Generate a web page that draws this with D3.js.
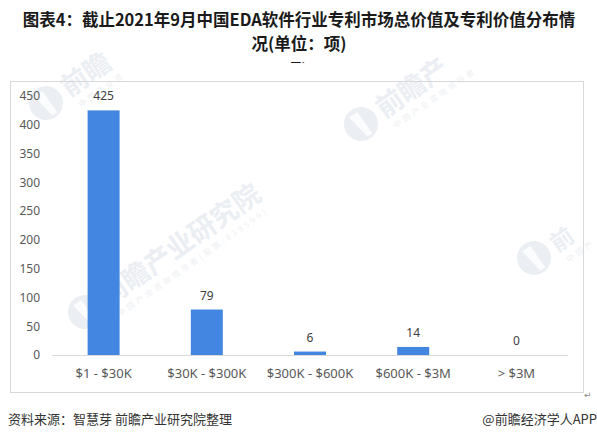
<!DOCTYPE html>
<html>
<head>
<meta charset="utf-8">
<script src="https://cdn.jsdelivr.net/npm/d3@7"></script>
<style>
  html, body { margin: 0; padding: 0; background: #fff; }
  svg { display: block; }
</style>
</head>
<body>
<div id="chart"></div>
<script>
// ---- data ----
const categories = ["$1 - $30K", "$30K - $300K", "$300K - $600K", "$600K - $3M", "> $3M"];
const values = [425, 79, 6, 14, 0];
const yTicks = [0, 50, 100, 150, 200, 250, 300, 350, 400, 450];
const titleLines = ["图表4：截止2021年9月中国EDA软件行业专利市场总价值及专利价值分布情", "况(单位：项)"];
const sourceText = "资料来源：智慧芽 前瞻产业研究院整理";
const brandText = "@前瞻经济学人APP";
const watermarkText = "前瞻产业研究院";
const watermarkSub = "中国产业咨询领导者(股票:839599)";

const W = 597, H = 440;
const svg = d3.select("#chart").append("svg").attr("width", W).attr("height", H);
const cjk = "'Noto Sans CJK SC', 'Noto Sans', sans-serif";
const latin = "'Noto Sans', 'Liberation Sans', sans-serif";

// ---- watermarks (behind, clipped to the chart image area) ----
svg.append("clipPath").attr("id", "wmclip").append("rect")
  .attr("x", 0).attr("y", 52).attr("width", 597).attr("height", 350);
// [x, y, main chars shown, subtitle chars shown, font size]
const wmPos = [[85, 312, 7, 20, 27], [361, 124, 3, 9, 27], [46, 103, 2, 5, 27], [534, 258, 1, 3, 23]];
const wm = svg.append("g").attr("class", "watermarks").attr("clip-path", "url(#wmclip)");
wmPos.forEach(([x, y, n, m, fs]) => {
  const g = wm.append("g").attr("transform", `translate(${x},${y}) rotate(-35)`);
  g.append("circle").attr("r", 17).attr("fill", "#ebeef2");
  g.append("path").attr("d", "M-6,-12 L4,-12 L4,14 L-2,14 Z").attr("fill", "#ffffff").attr("opacity", 0.8);
  g.append("text").attr("x", 22).attr("y", 9)
    .attr("font-family", cjk).attr("font-weight", "bold").attr("font-size", fs)
    .attr("fill", "#ebeef3").text(watermarkText.slice(0, n));
  g.append("text").attr("x", 26).attr("y", 24)
    .attr("font-family", cjk).attr("font-size", 8).attr("letter-spacing", 3)
    .attr("fill", "#edf0f3").text(watermarkSub.slice(0, m));
});

// ---- title ----
svg.append("g").selectAll("text").data(titleLines).join("text")
  .attr("x", 299).attr("y", (d, i) => 26 + i * 24)
  .attr("text-anchor", "middle")
  .attr("font-family", cjk).attr("font-weight", "bold").attr("font-size", 16.5)
  .attr("fill", "#1a1a1a").text(d => d);

// clipped remnant line under title
svg.append("clipPath").attr("id", "remn").append("rect")
  .attr("x", 270).attr("y", 58).attr("width", 50).attr("height", 5);
svg.append("text").attr("x", 296).attr("y", 76).attr("text-anchor", "middle")
  .attr("clip-path", "url(#remn)")
  .attr("font-family", cjk).attr("font-weight", "bold").attr("font-size", 16.5)
  .attr("fill", "#1a1a1a").text("项)");

// ---- frame ----
svg.append("rect").attr("x", 10.5).attr("y", 81.5).attr("width", 573).attr("height", 311)
  .attr("fill", "none").attr("stroke", "#d9d9d9").attr("stroke-width", 1);

// ---- scales ----
const x = d3.scaleBand().domain(categories).range([52, 568]).paddingInner(0.69).paddingOuter(0.345);
const y = d3.scaleLinear().domain([0, 450]).range([355, 96]);

// y labels
const yAxis = d3.axisLeft(y).tickValues(yTicks).tickSize(0).tickPadding(0);
const yg = svg.append("g").attr("transform", "translate(40,0)").call(yAxis);
yg.select(".domain").remove();
yg.selectAll("text").attr("font-family", latin).attr("font-size", 12).attr("fill", "#595959");

// bars
svg.append("g").selectAll("rect").data(values).join("rect")
  .attr("x", (d, i) => x(categories[i]))
  .attr("y", d => y(d))
  .attr("width", x.bandwidth())
  .attr("height", d => y(0) - y(d))
  .attr("fill", "#4286e2");

// x axis
const xAxis = d3.axisBottom(x).tickSize(0).tickPadding(14);
const xg = svg.append("g").attr("transform", `translate(0,${y(0)})`).call(xAxis);
xg.select(".domain").attr("stroke", "#d9d9d9").attr("d", "M52,0.5H568");
xg.selectAll("text").attr("font-family", latin).attr("font-size", 13).attr("fill", "#595959");

// data labels
svg.append("g").selectAll("text").data(values).join("text")
  .attr("x", (d, i) => x(categories[i]) + x.bandwidth() / 2)
  .attr("y", d => y(d) - 10)
  .attr("text-anchor", "middle")
  .attr("font-family", latin).attr("font-size", 12).attr("fill", "#404040")
  .text(d => d);

// return mark
svg.append("text").attr("x", 584).attr("y", 398).attr("font-family", "DejaVu Sans, sans-serif")
  .attr("font-size", 9).attr("fill", "#888").text("↵");

// ---- footer ----
svg.append("text").attr("x", 8).attr("y", 424)
  .attr("font-family", cjk).attr("font-size", 13).attr("fill", "#333").text(sourceText);
svg.append("text").attr("x", 597).attr("y", 424).attr("text-anchor", "end")
  .attr("font-family", cjk).attr("font-size", 13).attr("fill", "#333").text(brandText);
</script>
</body>
</html>
